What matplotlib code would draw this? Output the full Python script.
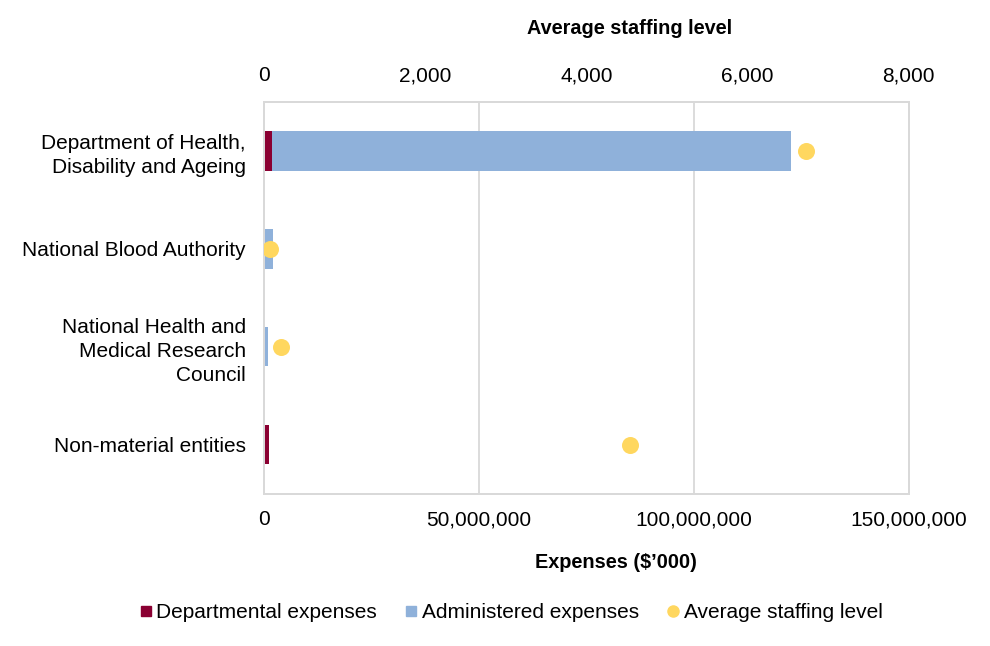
import matplotlib
matplotlib.use("Agg")
import matplotlib.pyplot as plt
from matplotlib.lines import Line2D
from matplotlib.ticker import FuncFormatter

plt.rcParams['font.family'] = ['Liberation Sans', 'DejaVu Sans']

categories = ["Department of Health,\nDisability and Ageing",
              "National Blood Authority",
              "National Health and\nMedical Research\nCouncil",
              "Non-material entities"]
departmental = [1_900_000, 0, 0, 1_300_000]
administered = [120_700_000, 2_150_000, 1_070_000, 0]
staffing = [6730, 75, 210, 4545]

x_ticks = [0, 50_000_000, 100_000_000, 150_000_000]
top_ticks = [0, 2000, 4000, 6000, 8000]

c_dep = "#8a0032"
c_adm = "#8fb1da"
c_asl = "#ffd75f"
c_grid = "#d9d9d9"
FS = 15

fig = plt.figure(figsize=(9.9, 6.46), dpi=100)
ax = fig.add_axes([0.2664, 0.2358, 0.918 - 0.2664, 0.842 - 0.2358])
ypos = list(range(len(categories)))

ax.barh(ypos, departmental, height=0.4, color=c_dep, zorder=2)
ax.barh(ypos, administered, left=departmental, height=0.4, color=c_adm, zorder=2)
ax.set_xlim(0, 150_000_000)
ax.set_ylim(3.5, -0.5)
ax.set_xticks(x_ticks)
ax.xaxis.set_major_formatter(FuncFormatter(lambda v, p: f"{int(v):,}"))
ax.set_yticks(ypos)
ax.set_yticklabels(categories, fontsize=FS, linespacing=1.36)
ax.tick_params(axis='both', length=0, labelsize=FS)
ax.tick_params(axis='y', pad=13)
ax.tick_params(axis='x', pad=12)
ax.grid(axis='x', color=c_grid, linewidth=1.3, zorder=0)
ax.set_axisbelow(True)
for s in ax.spines.values():
    s.set_color(c_grid)
    s.set_linewidth(1.3)

ax2 = ax.twiny()
ax2.scatter(staffing, ypos, s=150, color=c_asl, zorder=3, linewidths=0)
ax2.set_xlim(0, 8000)
ax2.set_xticks(top_ticks)
ax2.xaxis.set_major_formatter(FuncFormatter(lambda v, p: f"{int(v):,}"))
ax2.tick_params(axis='x', length=0, labelsize=FS, pad=12)
for s in ax2.spines.values():
    s.set_color(c_grid)
    s.set_linewidth(1.3)

fig.text(630 / 990, 1 - 29 / 646, "Average staffing level", ha='center', va='center',
         fontsize=14.3, fontweight='bold')
fig.text(616 / 990, 1 - 563 / 646, "Expenses ($\u2019000)", ha='center', va='center',
         fontsize=14.3, fontweight='bold')

handles = [
    Line2D([], [], marker='s', linestyle='none', markersize=7, color=c_dep),
    Line2D([], [], marker='s', linestyle='none', markersize=7, color=c_adm),
    Line2D([], [], marker='o', linestyle='none', markersize=8, color=c_asl),
]
labels = ["Departmental expenses", "Administered expenses", "Average staffing level"]
fig.legend(handles, labels, loc='center', bbox_to_anchor=(511 / 990, 1 - 613 / 646),
           ncol=3, frameon=False, fontsize=FS, handlelength=0.6, handletextpad=0.2,
           columnspacing=1.35)

fig.savefig("out.png", dpi=100)
